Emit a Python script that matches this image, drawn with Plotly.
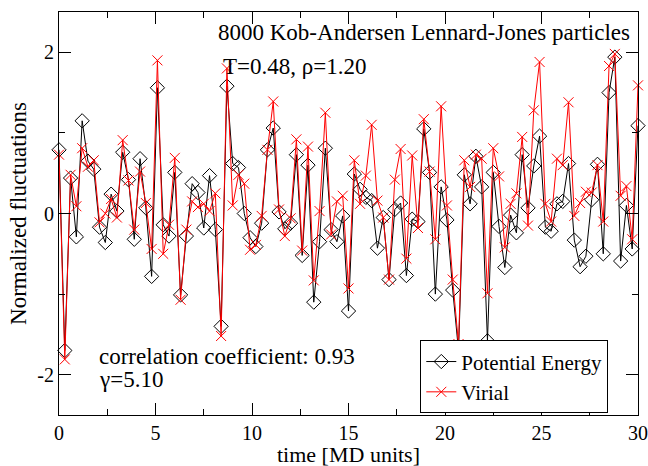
import plotly.graph_objects as go

dt = 0.3
potential_energy = [
    0.79, -1.70, 0.44, -0.29, 1.15, 0.65, 0.55, -0.17, -0.36, 0.24,
    0.03, 0.76, 0.42, -0.32, 0.68, 0.07, -0.78, 1.56, -0.14, -0.28,
    0.51, -1.01, -0.28, 0.37, 0.26, -0.18, 0.47, -0.20, -1.40, 1.58,
    0.62, 0.57, 0.00, -0.30, -0.41, -0.12, 0.79, 1.06, 0.02, -0.19,
    -0.12, 0.73, -0.52, 0.60, -1.10, -0.35, 0.81, -0.20, -0.35, -0.03,
    -1.21, 0.49, 0.30, 0.20, 0.16, -0.43, -0.05, -0.82, 0.05, 0.13,
    -0.77, -0.07, -0.10, 1.05, 0.51, -1.00, 0.33, -0.08, -0.95, -1.70,
    0.48, 0.12, 0.71, 0.33, -1.58, 0.51, -0.16, -0.67, -0.02, -0.24,
    0.73, 0.07, 0.59, 0.96, -0.17, -0.22, 0.12, 0.15, 0.62, -0.33,
    -0.66, -0.53, 0.17, 0.61, -0.50, 1.50, 1.94, -0.59, 0.10, -0.44,
    1.09,
]
virial = [
    0.73, -1.81, 0.48, 0.09, 0.81, 0.58, 0.66, -0.11, 0.00, 0.18,
    -0.05, 0.91, 0.41, -0.20, 0.52, 0.13, -0.44, 1.90, -0.50, -0.14,
    0.69, -1.07, -0.20, 0.15, 0.08, 0.12, 0.03, 0.25, -1.52, 1.80,
    0.10, 0.48, 0.37, -0.45, -0.39, -0.03, 0.79, 1.39, 0.05, -0.28,
    -0.06, 0.92, -0.46, 0.83, -0.83, 0.03, 1.25, -0.26, 0.15, 0.22,
    -0.93, 0.66, 0.12, 0.47, 1.10, 0.16, -0.05, -0.82, 0.42, 0.80,
    -0.56, 0.72, -0.18, 1.17, 0.52, -0.32, 1.33, 0.10, -0.82, -1.62,
    0.66, 0.33, 0.73, 0.68, -0.99, 0.81, 0.46, -0.42, 0.12, 0.25,
    0.95, -0.15, 1.28, 1.88, 0.12, -0.10, 0.68, 0.60, 1.38, -0.03,
    0.13, 0.27, 0.26, 0.60, -0.10, 1.83, 1.98, 0.22, 0.34, -0.32,
    1.59,
]
time = [round(i * dt, 2) for i in range(len(potential_energy))]

x_tickvals = [0, 5, 10, 15, 20, 25, 30]
x_ticktext = ["0", "5", "10", "15", "20", "25", "30"]
y_tickvals = [-2, 0, 2]
y_ticktext = ["-2", "0", "2"]

FONT = "Liberation Serif, Times New Roman, serif"

fig = go.Figure()
fig.add_trace(go.Scatter(
    x=time, y=potential_energy, mode="lines+markers", name="Potential Energy",
    line=dict(color="black", width=1),
    marker=dict(symbol="diamond-open", size=11, color="black", line=dict(width=1)),
    cliponaxis=False,
))
fig.add_trace(go.Scatter(
    x=time, y=virial, mode="lines+markers", name="Virial",
    line=dict(color="#ff0000", width=1),
    marker=dict(symbol="x-thin", size=10, color="#ff0000", line=dict(width=1, color="#ff0000")),
    cliponaxis=False,
))

axis_common = dict(
    showgrid=False, zeroline=False, showline=True, linecolor="black", linewidth=1,
    mirror="allticks", ticks="inside", ticklen=12, tickwidth=1, tickcolor="black",
    tickfont=dict(family=FONT, size=20, color="black"), ticklabeloverflow="allow",
    automargin=False,
)
fig.update_xaxes(range=[0, 30], tickvals=x_tickvals, ticktext=x_ticktext,
                 minor=dict(dtick=2.5, ticks="inside", ticklen=6, tickcolor="black", showgrid=False),
                 **axis_common)
fig.update_yaxes(range=[-2.5, 2.5], tickvals=y_tickvals, ticktext=y_ticktext,
                 minor=dict(dtick=1, ticks="inside", ticklen=6, tickcolor="black", showgrid=False),
                 **axis_common)

def ann(text, x, y, xanchor="left", yanchor="middle", textangle=0):
    return dict(text=text, x=x, y=y, xref="paper", yref="paper", showarrow=False,
                xanchor=xanchor, yanchor=yanchor, textangle=textangle,
                font=dict(family=FONT, size=23, color="black"))

fig.update_layout(
    width=648, height=466,
    margin=dict(l=59, r=10, t=12, b=51, autoexpand=False),
    paper_bgcolor="white", plot_bgcolor="white",
    showlegend=True,
    legend=dict(x=0.624, y=0.004, xanchor="left", yanchor="bottom",
                bgcolor="white", bordercolor="black", borderwidth=1,
                font=dict(family=FONT, size=21, color="black"),
                tracegroupgap=0, itemwidth=30),
    annotations=[
        ann("8000 Kob-Andersen Lennard-Jones particles", 0.990, 0.948, xanchor="right"),
        ann("T=0.48, ρ=1.20", 0.279, 0.864),
        ann("correlation coefficient: 0.93", 0.066, 0.146),
        ann("γ=5.10", 0.066, 0.087),
        dict(text="time [MD units]", x=0.5, y=-0.097, xref="paper", yref="paper",
             showarrow=False, xanchor="center", yanchor="middle",
             font=dict(family=FONT, size=22, color="black")),
        dict(text="Normalized fluctuations", x=-0.07, y=0.5, xref="paper", yref="paper",
             showarrow=False, xanchor="center", yanchor="middle", textangle=-90,
             font=dict(family=FONT, size=23, color="black")),
    ],
)

fig.write_html("out.html")
